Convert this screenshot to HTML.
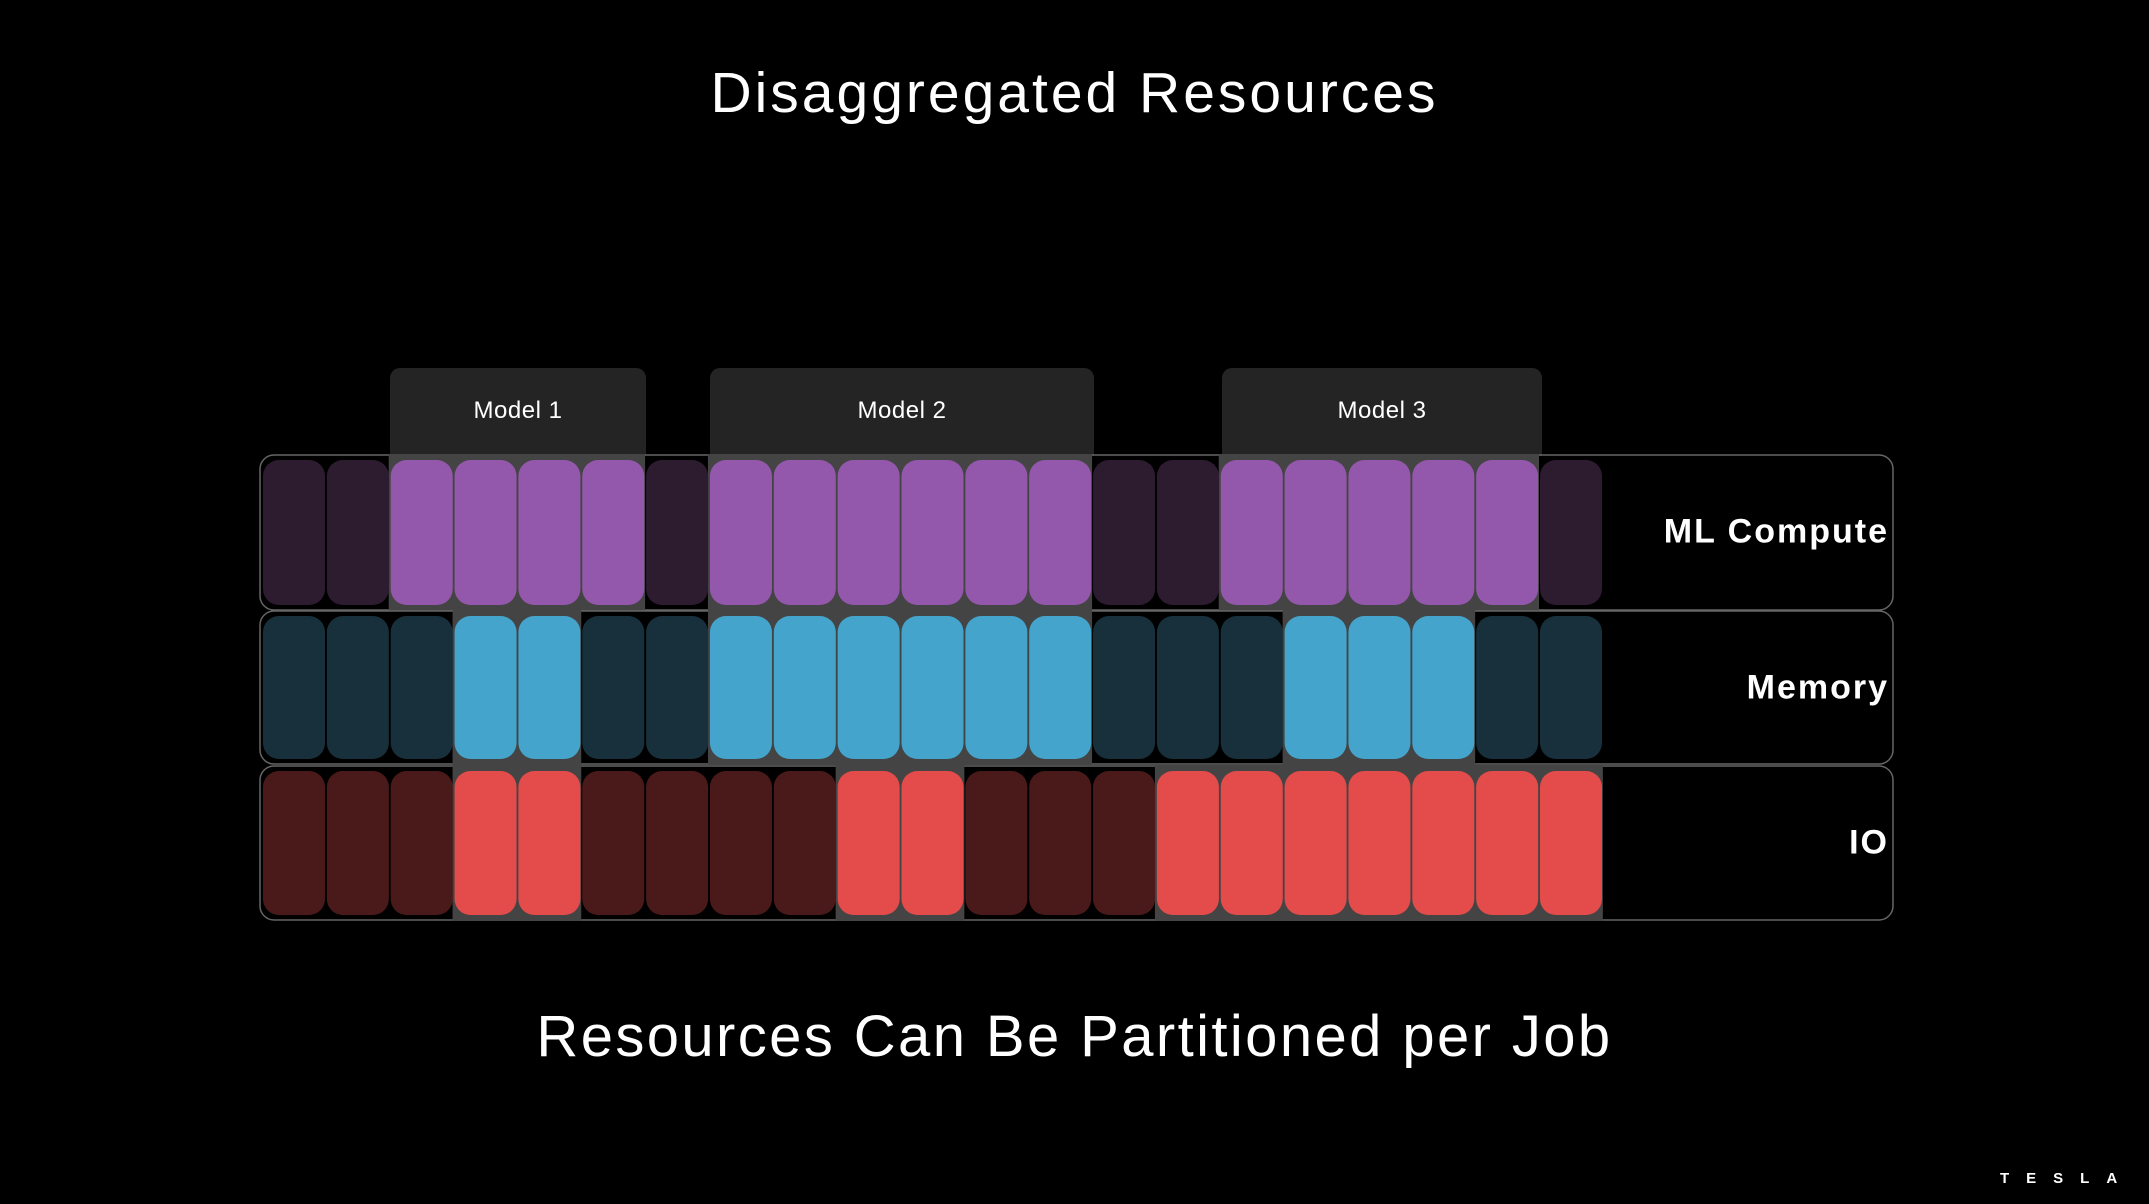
<!DOCTYPE html>
<html><head><meta charset="utf-8"><style>
html,body{margin:0;padding:0;background:#000;}
body{width:2149px;height:1204px;position:relative;overflow:hidden;font-family:"Liberation Sans",sans-serif;color:#fff;}
.t{position:absolute;left:0;width:2149px;text-align:center;}
.lab{position:absolute;right:260px;font-size:34px;font-weight:bold;letter-spacing:2px;transform:translateY(-50%);}
.tab{position:absolute;top:368px;height:88px;background:#242424;border-radius:10px 10px 0 0;font-size:24px;letter-spacing:0.5px;text-align:center;line-height:86px;}
</style></head><body>
<div class="t" style="top:60px;font-size:57px;letter-spacing:3px;">Disaggregated Resources</div>
<div class="tab" style="left:390px;width:256px;">Model 1</div>
<div class="tab" style="left:710px;width:384px;">Model 2</div>
<div class="tab" style="left:1222px;width:320px;">Model 3</div>
<svg id="s" width="2149" height="1204" style="position:absolute;left:0;top:0"></svg>
<div class="lab" style="top:532px">ML Compute</div>
<div class="lab" style="top:688px">Memory</div>
<div class="lab" style="top:843px">IO</div>
<div class="t" style="top:1003px;font-size:58px;letter-spacing:2.4px;">Resources Can Be Partitioned per Job</div>
<div style="position:absolute;left:2000px;top:1170px;font-size:15px;font-weight:bold;letter-spacing:17px;">TESLA</div>
<script>
var s=document.getElementById('s'),h='';
var rows=[
 {y0:455,y1:610,c0:'#2d1b30',c1:'#9358ab',a:'001111011111100111110'},
 {y0:611,y1:764,c0:'#17303b',c1:'#45a4cc',a:'000110011111100011100'},
 {y0:766,y1:920,c0:'#4a1a1a',c1:'#e44b4b',a:'000110000110001111111'}];
var x0=262,p=63.85;
rows.forEach(function(r){
 h+='<rect x="260" y="'+r.y0+'" width="1633" height="'+(r.y1-r.y0)+'" rx="14" fill="none" stroke="#666" stroke-width="1.5"/>';
 for(var i=0;i<21;i++){ if(r.a[i]=='1'){ h+='<rect x="'+(x0+i*p-1)+'" y="'+(r.y0-1)+'" width="'+(p+1)+'" height="'+(r.y1-r.y0+2)+'" fill="#444"/>'; } }
 for(var i=0;i<21;i++){ h+='<rect x="'+(x0+i*p+1)+'" y="'+(r.y0+5)+'" width="62" height="'+(r.y1-r.y0-10)+'" rx="16" fill="'+(r.a[i]=='1'?r.c1:r.c0)+'"/>'; }
});
s.innerHTML=h;
</script>
</body></html>
